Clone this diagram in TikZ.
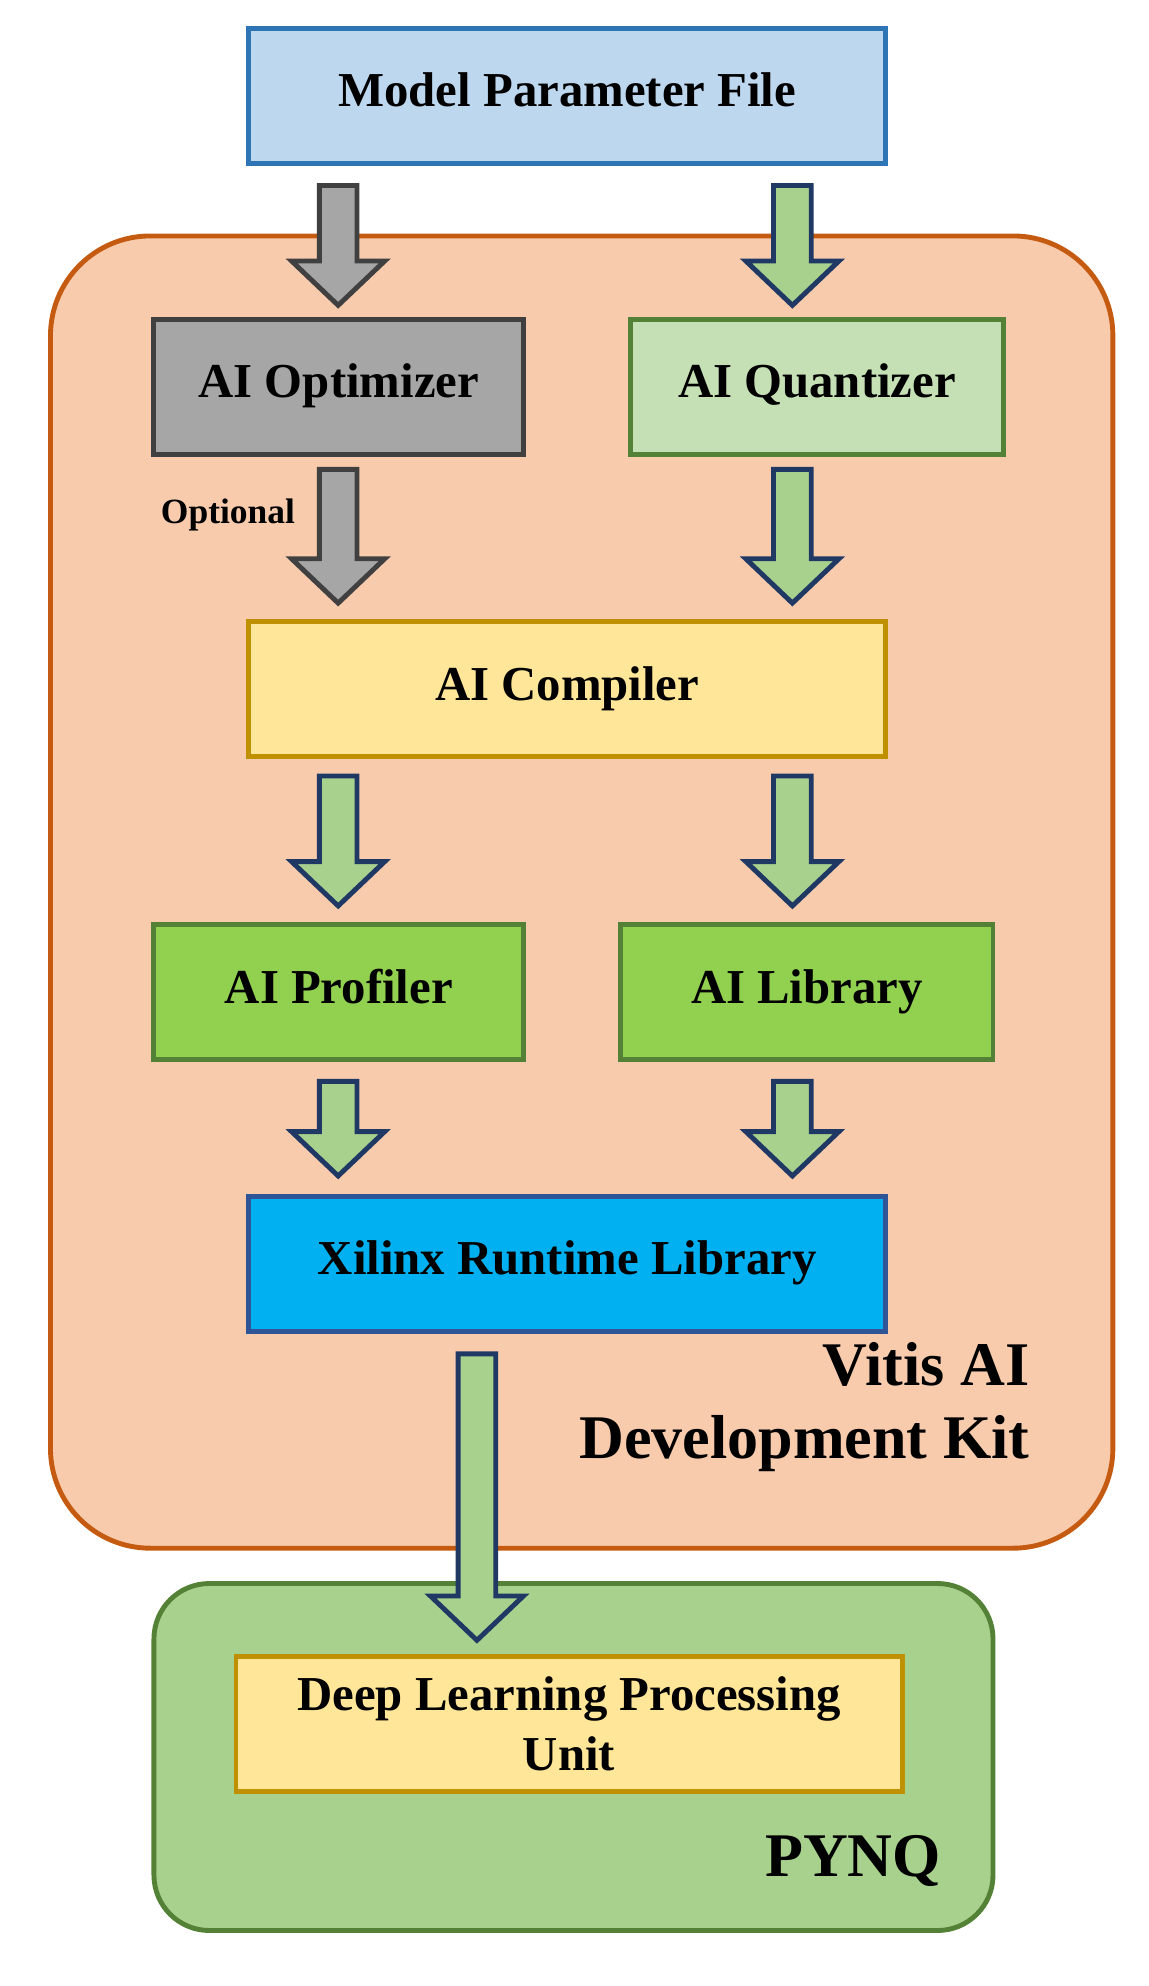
\documentclass[tikz,border=0pt]{standalone}
\usepackage{fontspec}
\setmainfont{Liberation Serif}
\usetikzlibrary{positioning,calc}
\definecolor{mpfFill}{HTML}{BDD7EE}\definecolor{mpfLine}{HTML}{2E75B6}
\definecolor{kitFill}{HTML}{F8CBAD}\definecolor{kitLine}{HTML}{C55A11}
\definecolor{optFill}{HTML}{A6A6A6}\definecolor{optLine}{HTML}{404040}
\definecolor{quaFill}{HTML}{C5E0B4}\definecolor{grnLine}{HTML}{538135}
\definecolor{cmpFill}{HTML}{FFE699}\definecolor{cmpLine}{HTML}{BF9000}
\definecolor{proFill}{HTML}{92D050}
\definecolor{xrlFill}{HTML}{00B0F0}\definecolor{xrlLine}{HTML}{2F5597}
\definecolor{pynqFill}{HTML}{A9D18E}
\definecolor{arrLine}{HTML}{1F3864}
\newcommand\blockarr[3]{\draw[line width=2.2pt,draw=#1Line,fill=#1Fill,line join=miter]
  let \p1=(#2), \p2=(#3) in
  (\x1-8.5pt,\y1) -- (\x1+8.5pt,\y1) -- (\x1+8.5pt,\y2+20pt) -- (\x1+21pt,\y2+20pt)
  -- (\x2,\y2) -- (\x1-21pt,\y2+20pt) -- (\x1-8.5pt,\y2+20pt) -- cycle;}
\colorlet{gryLine}{optLine}\colorlet{gryFill}{optFill}
\colorlet{grLine}{arrLine}\colorlet{grFill}{pynqFill}
\begin{document}
\begin{tikzpicture}[x=0.02cm,y=-0.02cm,
  box/.style={draw,line width=2.2pt,minimum width=#1*0.02cm,minimum height=107*0.02cm,
    font=\fontsize{22}{26}\selectfont\bfseries,align=center,text height=15pt,text depth=5pt},
  big/.style={font=\fontsize{28}{33}\selectfont\bfseries,align=right}]
\useasboundingbox (0,0) rectangle (910,1574);
% containers
\draw[line width=2.2pt,draw=kitLine,fill=kitFill,rounded corners=45pt] (40,187) rectangle (882,1227);
\draw[line width=2.2pt,draw=grnLine,fill=pynqFill,rounded corners=25pt] (122,1255) rectangle (787,1530);
% boxes
\node[box=505,draw=mpfLine,fill=mpfFill] (mpf) at (449.5,76) {Model Parameter File};
\node[box=293,draw=optLine,fill=optFill] (opt) at (268.5,306.5) {AI Optimizer};
\node[box=295,draw=grnLine,fill=quaFill] (qua) at (647.5,306.5) {AI Quantizer};
\node[box=505,draw=cmpLine,fill=cmpFill] (cmp) at (449.5,546) {AI Compiler};
\node[box=293,draw=grnLine,fill=proFill] (pro) at (268.5,786.5) {AI Profiler};
\node[box=295,draw=grnLine,fill=proFill] (lib) at (639.5,786.5) {AI Library};
\node[box=505,draw=xrlLine,fill=xrlFill] (xrl) at (449.5,1001.5) {Xilinx Runtime Library};
\node[box=528,draw=cmpLine,fill=cmpFill,text height=,text depth=,font=\fontsize{22}{27}\selectfont\bfseries] (dpu) at (451,1366.5) {Deep Learning Processing\\Unit};
\node[big,anchor=east] (kit) at (822,1115) {Vitis AI\\Development Kit};
\node[big,anchor=east] (pynq) at (752,1475) {PYNQ};
\node[font=\fontsize{16}{18}\selectfont\bfseries,anchor=east] (optl) at (240,408) {Optional};
% connectors
\coordinate (a1s) at (268,147); \coordinate (a1e) at (268,242);
\coordinate (a2s) at (628,147); \coordinate (a2e) at (628,242);
\coordinate (a3s) at (268,372); \coordinate (a3e) at (268,478);
\coordinate (a4s) at (628,372); \coordinate (a4e) at (628,478);
\coordinate (a5s) at (268,615); \coordinate (a5e) at (268,718);
\coordinate (a6s) at (628,615); \coordinate (a6e) at (628,718);
\coordinate (a7s) at (268,857); \coordinate (a7e) at (268,932);
\coordinate (a8s) at (628,857); \coordinate (a8e) at (628,932);
\coordinate (a9s) at (378,1073); \coordinate (a9e) at (378,1300);
\blockarr{gry}{a1s}{a1e} \blockarr{gr}{a2s}{a2e}
\blockarr{gry}{a3s}{a3e} \blockarr{gr}{a4s}{a4e}
\blockarr{gr}{a5s}{a5e} \blockarr{gr}{a6s}{a6e}
\blockarr{gr}{a7s}{a7e} \blockarr{gr}{a8s}{a8e}
\blockarr{gr}{a9s}{a9e}
\end{tikzpicture}
\end{document}
